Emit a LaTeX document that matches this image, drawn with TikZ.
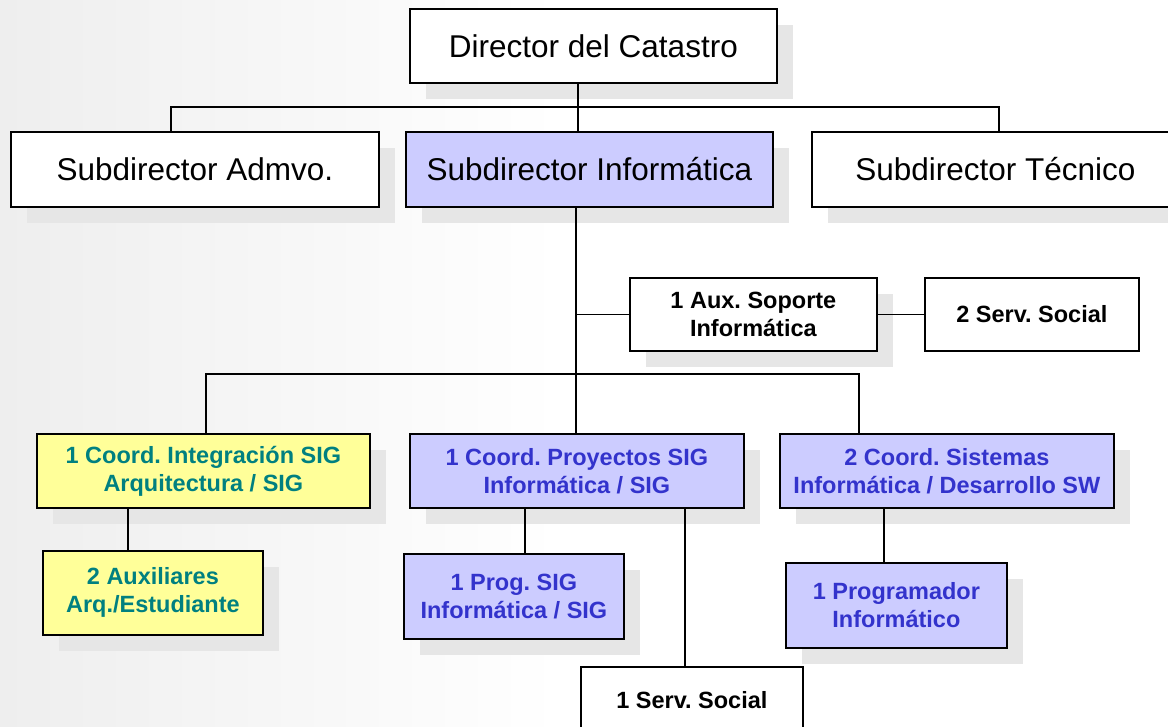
\documentclass[tikz,border=0pt]{standalone}
\usepackage{fontspec}
\setmainfont{Liberation Sans}
\usetikzlibrary{shadows}
\definecolor{lavender}{RGB}{204,204,255}
\definecolor{paleyellow}{RGB}{255,255,153}
\definecolor{blueText}{RGB}{51,51,204}
\definecolor{tealText}{RGB}{0,128,128}
\definecolor{shadowgray}{RGB}{230,230,230}
\definecolor{bgGray}{RGB}{238,238,238}
\frenchspacing
\tikzset{
  box/.style={draw=black, line width=1.8pt, anchor=north west, inner sep=0pt, align=center, text=black, fill=white},
  shad/.style={drop shadow={shadow xshift=16pt, shadow yshift=-16pt, fill=shadowgray, opacity=1}},
  big/.style={font=\fontsize{31.5}{36}\selectfont},
  small/.style={font=\fontsize{23.5}{28}\selectfont\bfseries},
  lav/.style={fill=lavender, text=blueText},
  yel/.style={fill=paleyellow, text=tealText},
  link/.style={line width=1.6pt, draw=black}
}
\begin{document}
\begin{tikzpicture}[x=1pt, y=-1pt]
\clip (0,0) rectangle (1168,726);
\shade[left color=bgGray, right color=white] (0,0) rectangle (560,726);
\fill[white] (560,0) rectangle (1168,726);

% level 1
\node[box, shad, big, minimum width=367pt, minimum height=74pt] (dir) at (409,8) {Director del Catastro};
% level 2
\node[box, shad, big, minimum width=368pt, minimum height=75pt] (sadm) at (10,131) {Subdirector Admvo.};
\node[box, shad, big, lav, text=black, minimum width=367pt, minimum height=75pt] (sinf) at (405,131) {Subdirector Informática};
\node[box, shad, big, minimum width=367pt, minimum height=75pt] (stec) at (811,131) {Subdirector Técnico};
% support
\node[box, shad, small, minimum width=247pt, minimum height=73pt] (aux) at (629,277) {1 Aux. Soporte\\Informática};
\node[box, small, minimum width=214pt, minimum height=73pt] (ss2) at (924,277) {2 Serv. Social};
% coordinators
\node[box, shad, small, yel, minimum width=333pt, minimum height=74pt] (cint) at (36,433) {1 Coord. Integración SIG\\Arquitectura / SIG};
\node[box, shad, small, lav, minimum width=334pt, minimum height=74pt] (cpro) at (409,433) {1 Coord. Proyectos SIG\\Informática / SIG};
\node[box, shad, small, lav, minimum width=334pt, minimum height=74pt] (csis) at (779,433) {2 Coord. Sistemas\\Informática / Desarrollo SW};
% bottom
\node[box, shad, small, yel, minimum width=220pt, minimum height=84pt] (auxs) at (42,550) {2 Auxiliares\\Arq./Estudiante};
\node[box, shad, small, lav, minimum width=220pt, minimum height=85pt] (prog) at (403,553) {1 Prog. SIG\\Informática / SIG};
\node[box, shad, small, lav, minimum width=221pt, minimum height=85pt] (progr) at (785,562) {1 Programador\\Informático};
\node[box, small, minimum width=222pt, minimum height=66pt] (ss1) at (580,666) {1 Serv. Social};

% junction coordinates
\coordinate (bL) at (171,107);
\coordinate (bC) at (578,107);
\coordinate (bR) at (999,107);
\coordinate (vC) at (576,374);
\coordinate (mL) at (206,374);
\coordinate (mR) at (859,374);
\coordinate (xA) at (128,0);
\coordinate (xP) at (525,0);
\coordinate (xS) at (685,0);
\coordinate (xG) at (884,0);

% connectors
\draw[link] (dir.south -| bC) -- (bC);
\draw[link] (sadm.north -| bL) -- (bL) -- (bR) -- (stec.north -| bR);
\draw[link] (bC) -- (sinf.north -| bC);
\draw[link] (sinf.south -| vC) -- (cpro.north -| vC);
\draw[link] (aux.west -| vC) -- (aux.west);
\draw[link] (aux.east) -- (ss2.west);
\draw[link] (cint.north -| mL) -- (mL) -- (mR) -- (csis.north -| mR);
\draw[link] (cint.south -| xA) -- (auxs.north -| xA);
\draw[link] (cpro.south -| xP) -- (prog.north -| xP);
\draw[link] (cpro.south -| xS) -- (ss1.north -| xS);
\draw[link] (csis.south -| xG) -- (progr.north -| xG);
\end{tikzpicture}
\end{document}
